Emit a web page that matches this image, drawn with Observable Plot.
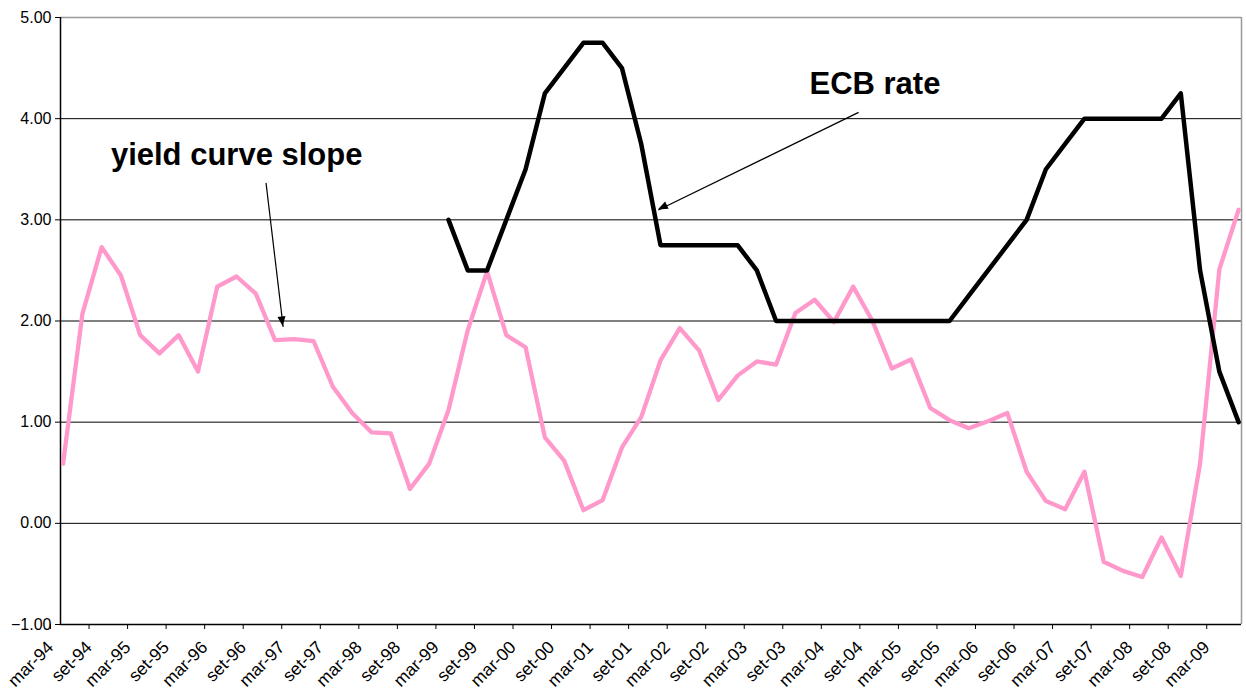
<!DOCTYPE html>
<html><head><meta charset="utf-8">
<script src="https://cdn.jsdelivr.net/npm/d3@7"></script>
<script src="https://cdn.jsdelivr.net/npm/@observablehq/plot@0.6"></script>
<style>html,body{margin:0;padding:0;background:#fff} svg{display:block}</style>
</head><body><div id="chart"></div>
<script>
const tickLabels = ["mar-94","set-94","mar-95","set-95","mar-96","set-96","mar-97","set-97","mar-98","set-98",
  "mar-99","set-99","mar-00","set-00","mar-01","set-01","mar-02","set-02","mar-03","set-03",
  "mar-04","set-04","mar-05","set-05","mar-06","set-06","mar-07","set-07","mar-08","set-08","mar-09"];
const yTicks = [-1, 0, 1, 2, 3, 4, 5];
// yield curve slope, quarterly from mar-94
const slope = [0.59, 2.07, 2.73, 2.45, 1.86, 1.68, 1.86, 1.50, 2.34, 2.44,
  2.27, 1.81, 1.82, 1.80, 1.35, 1.09, 0.90, 0.89, 0.34, 0.59,
  1.12, 1.91, 2.49, 1.86, 1.74, 0.85, 0.62, 0.13, 0.23, 0.75,
  1.05, 1.61, 1.93, 1.71, 1.22, 1.46, 1.60, 1.57, 2.08, 2.21,
  1.99, 2.34, 2.00, 1.53, 1.62, 1.14, 1.02, 0.94, 1.01, 1.09,
  0.51, 0.22, 0.14, 0.51, -0.38, -0.47, -0.53, -0.14, -0.52, 0.59,
  2.51, 3.10];
// ECB rate, quarterly from mar-99 (quarter index 20)
const ecbStart = 20;
const ecbRate = [3.0, 2.5, 2.5, 3.0, 3.5, 4.25, 4.5, 4.75, 4.75, 4.5,
  3.75, 2.75, 2.75, 2.75, 2.75, 2.75, 2.5, 2.0, 2.0, 2.0,
  2.0, 2.0, 2.0, 2.0, 2.0, 2.0, 2.0, 2.25, 2.5, 2.75,
  3.0, 3.5, 3.75, 4.0, 4.0, 4.0, 4.0, 4.0, 4.25, 2.5,
  1.5, 1.0];
const labels = [
  {q: 2.48, v: 3.54, text: "yield curve slope"},
  {q: 38.73, v: 4.243, text: "ECB rate"}
];
const arrows = [
  {q1: 10.53, v1: 3.366, q2: 11.42, v2: 1.942},
  {q1: 41.28, v1: 4.062, q2: 30.89, v2: 3.097}
];

const xMin = -0.135, xMax = 61.15;
const slopeData = slope.map((v, i) => ({q: i, v}));
const ecbData = ecbRate.map((v, i) => ({q: i + ecbStart, v}));
const tickPos = tickLabels.map((_, k) => 2 * k + xMin);

const font = "'Liberation Sans', Arial, Helvetica, sans-serif";
const chart = Plot.plot({
  width: 1246, height: 695,
  marginLeft: 60, marginRight: 5, marginTop: 17, marginBottom: 71,
  style: {fontFamily: font, fontSize: "16px", color: "#000", background: "#fff"},
  x: {domain: [xMin, xMax], label: null},
  y: {domain: [-1, 5], label: null},
  marks: [
    Plot.ruleY([0, 1, 2, 3, 4], {stroke: "#000", strokeWidth: 1}),
    Plot.ruleY([5], {stroke: "#999", strokeWidth: 1.5}),
    Plot.ruleX([xMax], {stroke: "#999", strokeWidth: 1.5}),
    Plot.ruleX([xMin], {stroke: "#000", strokeWidth: 1.5}),
    Plot.ruleY([-1], {stroke: "#000", strokeWidth: 1.5}),
    Plot.axisY({ticks: yTicks, tickFormat: d3.format(".2f"), tickSize: 5, tickPadding: 4, fontSize: 16, label: null}),
    Plot.axisX({ticks: tickPos, tickFormat: d => tickLabels[Math.round((d - xMin) / 2)], tickRotate: -45, tickSize: 5, tickPadding: 15, dx: -10, fontSize: 17.5, label: null}),
    Plot.line(slopeData, {x: "q", y: "v", stroke: "#ff99cc", strokeWidth: 4.3, strokeLinejoin: "round"}),
    Plot.line(ecbData, {x: "q", y: "v", stroke: "#000", strokeWidth: 4.5, strokeLinejoin: "round"}),
    Plot.link(arrows, {x1: "q1", y1: "v1", x2: "q2", y2: "v2", stroke: "#000", strokeWidth: 1.2}),
    Plot.text(labels, {x: "q", y: "v", text: "text", textAnchor: "start", lineAnchor: "bottom", fontSize: 31, fontWeight: "bold", fill: "#000"})
  ]
});

// filled arrowheads positioned with the plot's own scales
const sx = chart.scale("x"), sy = chart.scale("y");
const svg = d3.select(chart);
arrows.forEach(a => {
  const x1 = sx.apply(a.q1), y1 = sy.apply(a.v1), x2 = sx.apply(a.q2), y2 = sy.apply(a.v2);
  const ang = Math.atan2(y2 - y1, x2 - x1);
  const L = 10, W = 4;
  const bx = x2 - L * Math.cos(ang), by = y2 - L * Math.sin(ang);
  const px = -Math.sin(ang) * W, py = Math.cos(ang) * W;
  svg.append("path")
    .attr("d", `M${x2},${y2}L${bx + px},${by + py}L${bx - px},${by - py}Z`)
    .attr("fill", "#000");
});
document.getElementById("chart").appendChild(chart);
</script>
</body></html>
